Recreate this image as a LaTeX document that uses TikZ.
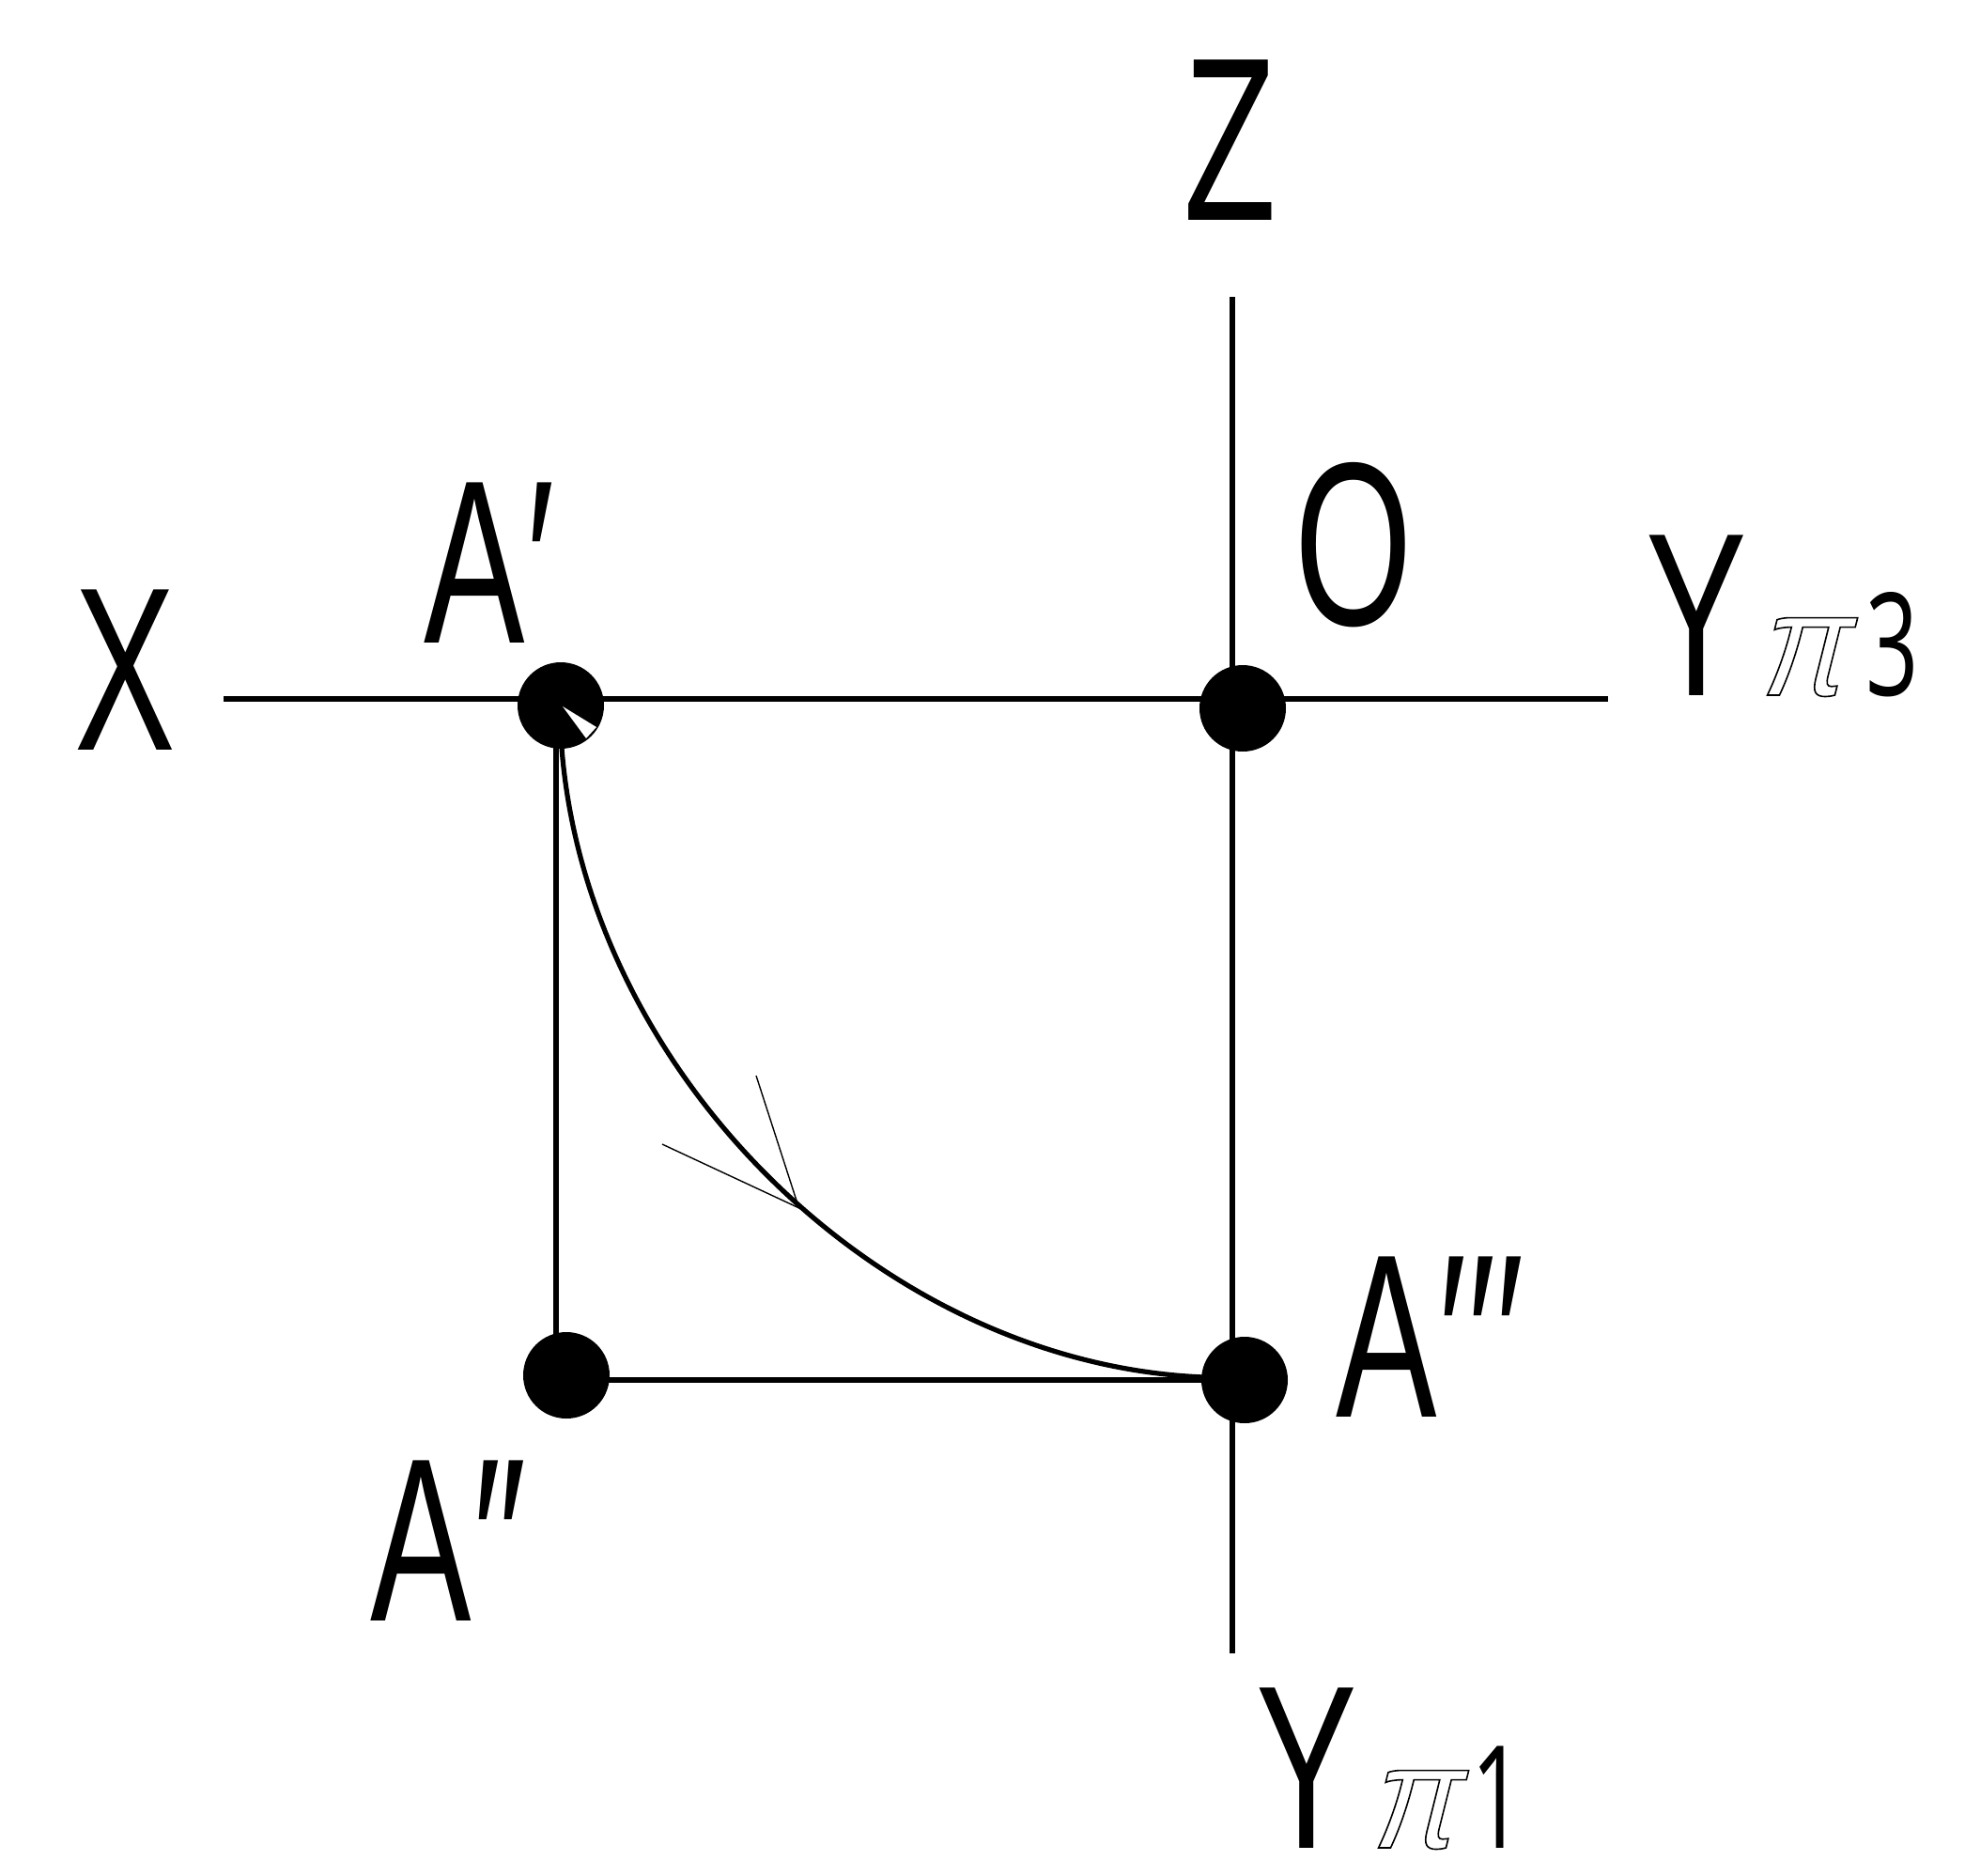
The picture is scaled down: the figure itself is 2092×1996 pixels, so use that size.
\documentclass[tikz,border=0pt]{standalone}
\usepackage{fontspec}
\setmainfont[FakeStretch=0.65]{Liberation Sans}
\newfontfamily\digitfont[FakeStretch=0.65]{Open Sans}
\newfontfamily\pifont[FakeStretch=0.9,FakeSlant=0.25]{Liberation Sans}
\newcommand{\hollow}[1]{\special{pdf:code 1 Tr 0.8 w}#1\special{pdf:code 0 Tr}}
\tikzset{
  dot/.style={draw=none,fill=black,shape=circle,minimum size=46pt,inner sep=0pt},
  biglabel/.style={inner sep=0pt,font=\fontsize{124}{130}\selectfont},
  sublabel/.style={inner sep=0pt,font=\digitfont\fontsize{76}{80}\selectfont},
  pilabel/.style={inner sep=0pt,font=\pifont\fontsize{78}{80}\selectfont},
  axis/.style={line width=2.6pt},
  tick/.style={line width=0.7pt}
}
\begin{document}
\begin{tikzpicture}[x=0.5pt,y=-0.5pt]
  \useasboundingbox (0,0) rectangle (2092,1996);

  \node[dot](Aone) at(597,751){};
  \node[dot](Ozero) at(1323,754){};
  \node[dot](Atwo) at(603,1464){};
  \node[dot](Athree) at(1325,1469){};

  \coordinate (XL) at(238,744);
  \coordinate (YR) at(1712,744);
  \coordinate (ZT) at(1312,316);
  \coordinate (YB) at(1312,1760);
  \coordinate (Ltop) at(592,751);
  \coordinate (Lbot) at(592,1464);
  \coordinate (ArcS) at(598,796);
  \coordinate (ArcE) at(1282,1466);
  \coordinate (TipA) at(848,1278);
  \coordinate (TipB) at(853,1287);
  \coordinate (TailA) at(805,1145);
  \coordinate (TailB) at(705,1218);

  \draw[axis] (XL)--(YR);
  \draw[axis] (ZT)--(YB);
  \draw[axis] (Ltop)--(Lbot);
  \draw[axis] (Atwo |- Athree)--(Athree);
  \draw[axis] (ArcS) .. controls (625,1141) and (937,1452) .. (ArcE);
  \draw[tick] (TailA)--(TipA);
  \draw[tick] (TailB)--(TipB);

  % notch in the first point
  \fill[white] (599,752)--(635,774)--(624,786)--cycle;

  \node[biglabel,anchor=base](LZ) at(1310,234){Z};
  \node[biglabel,anchor=base](LX) at(133,798){X};
  \node[biglabel,anchor=base west](LAone) at(451,684){A\kern1pt′};
  \node[biglabel,anchor=base](LO) at(1441,665){O};
  \node[biglabel,anchor=base west](LAtwo) at(394,1725){A\kern1pt″};
  \node[biglabel,anchor=base west](LAthree) at(1422,1508){A\kern1pt′′′};

  \node[biglabel,anchor=base](LYthree) at(1806,740){Y};
  \node[pilabel,anchor=base west](Pthree) at(1866,740){\hollow{π}};
  \node[sublabel,anchor=base west](Nthree) at(1986,740){3};

  \node[biglabel,anchor=base](LYone) at(1391,1967){Y};
  \node[pilabel,anchor=base west](Pone) at(1452,1967){\hollow{π}};
  \node[sublabel,anchor=base west](None) at(1566,1967){1};
\end{tikzpicture}
\end{document}
